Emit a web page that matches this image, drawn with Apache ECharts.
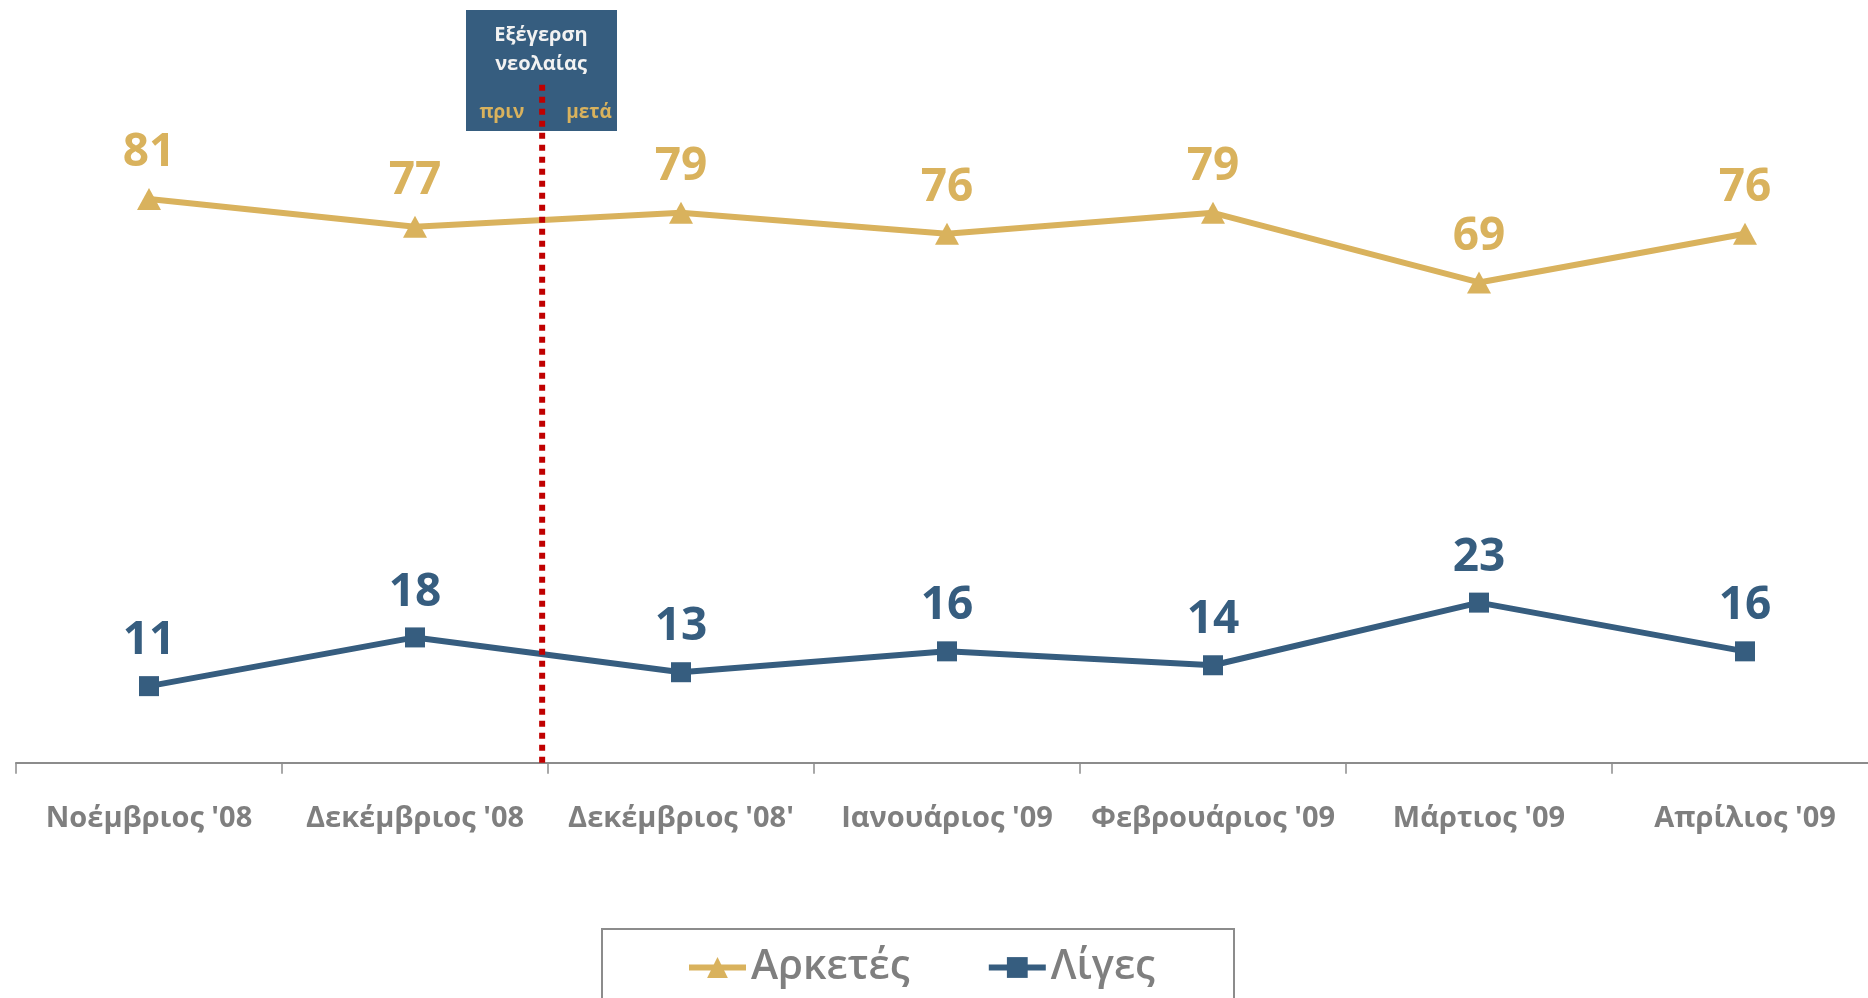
<!DOCTYPE html>
<html>
<head>
<meta charset="utf-8">
<script src="https://cdn.jsdelivr.net/npm/echarts@6/dist/echarts.min.js"></script>
<style>
  html, body { margin: 0; padding: 0; background: #fff; }
  #chart { width: 1868px; height: 998px; }
</style>
</head>
<body>
<div id="chart"></div>
<script>
var months = ["Νοέμβριος '08", "Δεκέμβριος '08", "Δεκέμβριος '08'", "Ιανουάριος '09", "Φεβρουάριος '09", "Μάρτιος '09", "Απρίλιος '09"];
var arketes = [81, 77, 79, 76, 79, 69, 76];
var liges = [11, 18, 13, 16, 14, 23, 16];
// where the youth uprising happened, between the two December surveys
var eventX = 1.478;
var eventTop = 97.4;

var gold = '#D9B25D';
var navy = '#365D7F';
var grey = '#7F7F7F';

var chart = echarts.init(document.getElementById('chart'));

function labelStyle (color) {
  return {
    show: true,
    position: 'top',
    distance: 12,
    color: color,
    fontFamily: 'Open Sans',
    fontWeight: 'bold',
    fontSize: 46
  }
}

chart.setOption({
  animation: false,
  grid: { left: 16, width: 1862, top: 66.7, bottom: 235.3, outerBoundsMode: 'none', containLabel: false },
  xAxis: [{
    type: 'category',
    data: months,
    boundaryGap: true,
    axisLine: { lineStyle: { color: '#8C8C8C', width: 2 } },
    axisTick: { show: true, length: 11, lineStyle: { color: '#8C8C8C', width: 1.5 } },
    axisLabel: {
      margin: 42,
      interval: 0,
      color: grey,
      fontFamily: 'Open Sans',
      fontWeight: 'bold',
      fontSize: 29
    }
  }, {
    type: 'value',
    min: -0.5,
    max: 6.5,
    show: false
  }],
  yAxis: {
    type: 'value',
    min: 0,
    max: 100,
    show: false,
    splitLine: { show: false }
  },
  legend: {
    data: ['Αρκετές', 'Λίγες'],
    left: 681,
    top: 942,
    itemWidth: 57,
    itemHeight: 26,
    itemGap: 76,
    lineStyle: { width: 6 },
    textStyle: { color: grey, fontFamily: 'Open Sans', fontWeight: 600, fontSize: 41 }
  },
  graphic: [{
    type: 'rect',
    z: 1,
    shape: { x: 602, y: 929, width: 632, height: 100 },
    style: { fill: 'none', stroke: '#8C8C8C', lineWidth: 2 }
  }, {
    type: 'rect',
    z: 1,
    shape: { x: 466, y: 10, width: 151, height: 121 },
    style: { fill: navy }
  }, {
    type: 'text',
    z: 1,
    x: 541, y: 50,
    style: {
      text: 'Εξέγερση\nνεολαίας',
      fill: '#F2F2F2',
      font: 'bold 20px "Open Sans"',
      lineHeight: 29,
      align: 'center',
      verticalAlign: 'middle'
    }
  }, {
    type: 'text',
    z: 1,
    x: 502, y: 113,
    style: { text: 'πριν', fill: gold, font: 'bold 19px "Open Sans"', align: 'center', verticalAlign: 'middle' }
  }, {
    type: 'text',
    z: 1,
    x: 589, y: 113,
    style: { text: 'μετά', fill: gold, font: 'bold 19px "Open Sans"', align: 'center', verticalAlign: 'middle' }
  }],
  series: [{
    name: 'Αρκετές',
    type: 'line',
    data: arketes,
    symbol: 'triangle',
    symbolSize: [24, 22],
    lineStyle: { color: gold, width: 6 },
    itemStyle: { color: gold },
    label: labelStyle(gold)
  }, {
    name: 'Λίγες',
    type: 'line',
    data: liges,
    symbol: 'rect',
    symbolSize: 20,
    lineStyle: { color: navy, width: 6 },
    itemStyle: { color: navy },
    label: labelStyle(navy)
  }, {
    name: 'divider',
    type: 'line',
    xAxisIndex: 1,
    z: 5,
    symbol: 'none',
    data: [[eventX, eventTop], [eventX, 0]],
    lineStyle: { color: '#C00000', width: 6, type: [6, 6], cap: 'butt' },
    silent: true
  }]
});
</script>
</body>
</html>
